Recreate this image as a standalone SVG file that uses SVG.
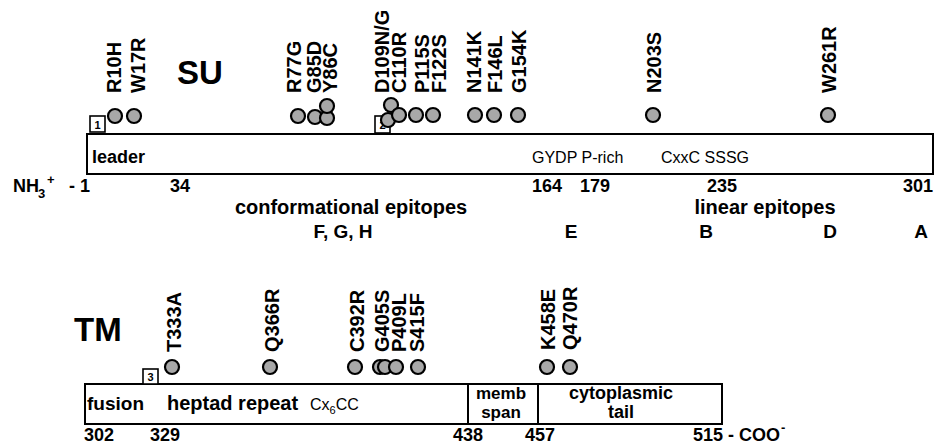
<svg xmlns="http://www.w3.org/2000/svg" width="939" height="446" viewBox="0 0 939 446">
<style>
text{font-family:"Liberation Sans",Arial,sans-serif;fill:#000}
.b{font-weight:bold}
.lab{font-weight:bold;font-size:20px}
.num{font-weight:bold;font-size:18px}
.reg{font-size:16px}
.bar{fill:#fff;stroke:#000;stroke-width:2}
.dot{fill:#a8a8a8;stroke:#000;stroke-width:2.2}
.box{fill:#fff;stroke:#000;stroke-width:1.6}
.bn{font-weight:bold;font-size:11px}
</style>
<rect width="939" height="446" fill="#fff"/>

<g id="su">
  <text class="b" x="177" y="84" font-size="33">SU</text>
  <rect class="bar" x="87" y="134" width="846" height="40"/>
  <text class="b" x="92" y="163" font-size="18">leader</text>
  <text class="reg" x="532" y="163" font-size="15">GYDP P-rich</text>
  <text class="reg" x="661" y="163" font-size="15">CxxC SSSG</text>
  <text class="num" x="13" y="192">NH</text>
  <text class="b" x="38" y="198" font-size="13">3</text>
  <text class="b" x="47" y="184" font-size="13">+</text>
  <text class="num" x="69" y="192">- 1</text>
  <text class="num" x="170" y="192">34</text>
  <text class="num" x="532" y="192">164</text>
  <text class="num" x="580" y="192">179</text>
  <text class="num" x="707" y="192">235</text>
  <text class="num" x="903" y="192">301</text>
  <text class="b" x="351" y="214" font-size="20" text-anchor="middle">conformational epitopes</text>
  <text class="b" x="343" y="238" font-size="19" text-anchor="middle">F, G, H</text>
  <text class="b" x="765" y="214" font-size="20" text-anchor="middle">linear epitopes</text>
  <text class="b" x="571" y="238" font-size="19" text-anchor="middle">E</text>
  <text class="b" x="706" y="238" font-size="19" text-anchor="middle">B</text>
  <text class="b" x="830" y="238" font-size="19" text-anchor="middle">D</text>
  <text class="b" x="921" y="238" font-size="19" text-anchor="middle">A</text>
</g>

<g id="su-boxes">
  <rect class="box" x="90" y="116" width="15" height="16"/>
  <text class="bn" x="97.5" y="128.5" text-anchor="middle">1</text>
  <rect class="box" x="375" y="116" width="15" height="17"/>
  <text class="bn" x="382.5" y="129" text-anchor="middle">2</text>
</g>

<g id="su-mutations">
  <circle class="dot" cx="115" cy="116" r="7"/>
  <circle class="dot" cx="134" cy="116" r="7"/>
  <circle class="dot" cx="298" cy="116" r="7"/>
  <circle class="dot" cx="315" cy="117" r="7"/>
  <circle class="dot" cx="327" cy="118" r="7"/>
  <circle class="dot" cx="327" cy="106" r="7"/>
  <circle class="dot" cx="388" cy="120" r="7"/>
  <circle class="dot" cx="391" cy="105" r="7"/>
  <circle class="dot" cx="399" cy="115" r="7"/>
  <circle class="dot" cx="416" cy="115" r="7"/>
  <circle class="dot" cx="433" cy="115" r="7"/>
  <circle class="dot" cx="475" cy="115" r="7"/>
  <circle class="dot" cx="494" cy="115" r="7"/>
  <circle class="dot" cx="518" cy="115" r="7"/>
  <circle class="dot" cx="653" cy="115" r="7"/>
  <circle class="dot" cx="828" cy="115" r="7"/>
  <text class="lab" transform="translate(121,93) rotate(-90)">R10H</text>
  <text class="lab" transform="translate(145,93) rotate(-90)">W17R</text>
  <text class="lab" transform="translate(301,93) rotate(-90)">R77G</text>
  <text class="lab" transform="translate(321,93) rotate(-90)">G85D</text>
  <text class="lab" transform="translate(337,93) rotate(-90)">Y86C</text>
  <text class="lab" transform="translate(389,93) rotate(-90)">D109N/G</text>
  <text class="lab" transform="translate(406,93) rotate(-90)">C110R</text>
  <text class="lab" transform="translate(429,93) rotate(-90)">P115S</text>
  <text class="lab" transform="translate(446,93) rotate(-90)">F122S</text>
  <text class="lab" transform="translate(481,93) rotate(-90)">N141K</text>
  <text class="lab" transform="translate(502,93) rotate(-90)">F146L</text>
  <text class="lab" transform="translate(526,93) rotate(-90)">G154K</text>
  <text class="lab" transform="translate(661,93) rotate(-90)">N203S</text>
  <text class="lab" transform="translate(836,93) rotate(-90)">W261R</text>
</g>

<g id="tm">
  <text class="b" x="74" y="341" font-size="33">TM</text>
  <rect class="bar" x="85" y="384" width="637" height="40"/>
  <line x1="468" y1="384" x2="468" y2="424" stroke="#000" stroke-width="2"/>
  <line x1="538" y1="384" x2="538" y2="424" stroke="#000" stroke-width="2"/>
  <text class="b" x="87" y="410" font-size="19">fusion</text>
  <text class="b" x="167" y="410" font-size="20">heptad repeat</text>
  <text class="reg" x="310" y="410">Cx<tspan font-size="11" dy="4">6</tspan><tspan dy="-4">CC</tspan></text>
  <text class="b" x="501" y="399" font-size="17" text-anchor="middle">memb</text>
  <text class="b" x="501" y="418" font-size="17" text-anchor="middle">span</text>
  <text class="b" x="621" y="399" font-size="18" text-anchor="middle">cytoplasmic</text>
  <text class="b" x="621" y="418" font-size="18" text-anchor="middle">tail</text>
  <text class="num" x="84" y="441">302</text>
  <text class="num" x="150" y="441">329</text>
  <text class="num" x="453" y="441">438</text>
  <text class="num" x="525" y="441">457</text>
  <text class="num" x="693" y="441">515 - COO</text>
  <text class="b" x="781" y="432" font-size="13">-</text>
</g>

<g id="tm-boxes">
  <rect class="box" x="143" y="369" width="15" height="15"/>
  <text class="bn" x="150.5" y="381" text-anchor="middle">3</text>
</g>

<g id="tm-mutations">
  <circle class="dot" cx="172" cy="367" r="7"/>
  <circle class="dot" cx="270" cy="367" r="7"/>
  <circle class="dot" cx="355" cy="367" r="7"/>
  <circle class="dot" cx="380" cy="367" r="7"/>
  <circle class="dot" cx="385" cy="367" r="7"/>
  <circle class="dot" cx="396" cy="367" r="7"/>
  <circle class="dot" cx="418" cy="367" r="7"/>
  <circle class="dot" cx="547" cy="367" r="7"/>
  <circle class="dot" cx="570" cy="367" r="7"/>
  <text class="lab" transform="translate(181,352) rotate(-90)">T333A</text>
  <text class="lab" transform="translate(279,352) rotate(-90)">Q366R</text>
  <text class="lab" transform="translate(364,352) rotate(-90)">C392R</text>
  <text class="lab" transform="translate(389,352) rotate(-90)">G405S</text>
  <text class="lab" transform="translate(406,352) rotate(-90)">P409L</text>
  <text class="lab" transform="translate(424,352) rotate(-90)">S415F</text>
  <text class="lab" transform="translate(555,350) rotate(-90)">K458E</text>
  <text class="lab" transform="translate(577,350) rotate(-90)">Q470R</text>
</g>
</svg>
